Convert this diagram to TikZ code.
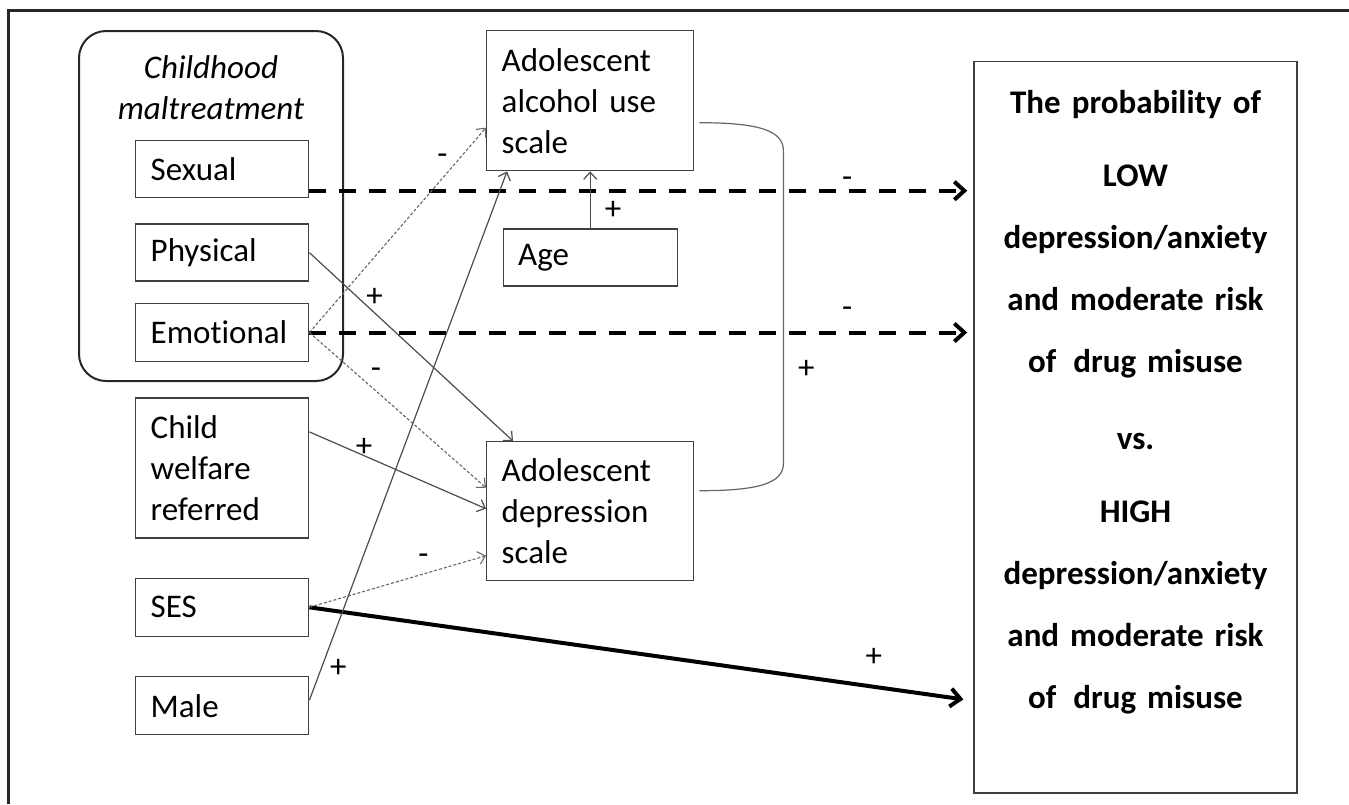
\documentclass[tikz,border=0pt]{standalone}
\usepackage{fontspec}
\setmainfont{Carlito}[Ligatures=NoCommon]
\usetikzlibrary{arrows.meta,calc,positioning}

\begin{document}
\begin{tikzpicture}[x=0.5pt,y=-0.5pt,font=\fontsize{16.5}{20.5}\selectfont,
  >={Straight Barb[length=3.5pt,width=6.5pt]},
  box/.style={draw=black!75,line width=0.7pt,align=left,inner xsep=7.5pt,inner ysep=0pt,
    text width=71.5pt,minimum height=28.5pt},
  grp/.style={draw=black!85,line width=1pt,rounded corners=13.5pt,anchor=north west,
    minimum width=132pt,minimum height=175pt},
  ttl/.style={align=center,inner sep=0pt,font=\fontsize{16.5}{20.5}\selectfont\itshape},
  res/.style={draw=black!75,line width=0.7pt,anchor=north,align=center,text width=151.5pt,
    inner xsep=5pt,inner ysep=14.5pt,text depth=325pt,font=\fontsize{16.5}{31}\selectfont\bfseries},
  plink/.style={draw=black!70,line width=0.6pt,->},
  nlink/.style={draw=black!60,line width=0.55pt,dash pattern=on 1.5pt off 1pt,->},
  bneg/.style={line width=2pt,dash pattern=on 8.5pt off 6.5pt,
    -{Straight Barb[length=5pt,width=9pt]},shorten >=3pt},
  bpos/.style={line width=2pt,-{Straight Barb[length=5pt,width=9pt]},shorten >=5pt},
  sgn/.style={inner sep=0pt}]
  \useasboundingbox (0,0) rectangle (1349,804);
  \draw[line width=1.5pt,black!85] (8,804) |- (1349,10);

  \node[grp] (grp) at (78,30) {};
  \node[ttl,below=12.5pt of grp.north] (mt) {Childhood\\maltreatment};
  \node[box,anchor=north west] (sex) at (135,140) {Sexual};
  \node[box,below=12.5pt of sex] (phy) {Physical};
  \node[box,below=10.5pt of phy,minimum height=29pt] (emo) {Emotional};
  \node[box,below=17.5pt of emo,minimum height=70pt] (cw) {Child\\ welfare\\ referred};
  \node[box,below=19.5pt of cw,minimum height=29pt] (ses) {SES};
  \node[box,below=19.5pt of ses,minimum height=29pt] (male) {Male};

  \node[box,anchor=north west,text width=88.5pt,minimum height=70pt] (alc) at (486,30)
    {Adolescent\\ alcohol use\\ scale};
  \node[box,below=28.5pt of alc,text width=72pt] (age) {Age};
  \node[box,anchor=north west,text width=88.5pt,minimum height=69.5pt] (dep) at (486,441)
    {Adolescent\\ depression\\ scale};

  \node[res] (out) at (1135.5,61) {The probability of\\[5.5pt] LOW\\ depression/anxiety\\
    and moderate risk\\ of\hspace{3pt} drug misuse\\[7.5pt] vs.\\[5.5pt] HIGH\\ depression/anxiety\\
    and moderate risk\\ of\hspace{3pt} drug misuse};

  \coordinate (s1) at ($(sex.east)+(0,21.5)$);
  \draw[bneg] (s1) -- (s1 -| out.west) node[sgn,pos=0.81,yshift=4.2pt]{-};
  \draw[bneg] (emo.east) -- (emo.east -| out.west) node[sgn,pos=0.81,yshift=10.2pt]{-};
  \draw[bpos] (ses.east) -- ($(out.west)+(0,273.5)$) node[sgn,pos=0.85,yshift=14.5pt]{+};

  \draw[plink] (phy.east) -- ([xshift=13.5pt]dep.north west) node[sgn,pos=0.32,yshift=7.7pt]{+};
  \draw[nlink] (emo.east) -- ($(alc.west)+(0,27)$) node[sgn,pos=0.866,xshift=-10pt,yshift=-1.8pt]{-};
  \draw[nlink] (emo.east) -- ($(dep.west)+(0,-23.5)$) node[sgn,pos=0.376,yshift=9pt]{-};
  \draw[plink] ($(cw.east)+(0,-36)$) -- ($(dep.west)+(0,-2.5)$) node[sgn,pos=0.309,yshift=4.2pt]{+};
  \draw[nlink] (ses.east) -- ($(dep.west)+(0,44.5)$) node[sgn,pos=0.646,yshift=7.2pt]{-};
  \draw[plink] ($(male.east)+(0,-5.5)$) -- ([xshift=10.5pt]alc.south west)
    node[sgn,pos=0.063,xshift=8.25pt,yshift=-0.8pt]{+};
  \draw[plink] (age) -- (alc) node[sgn,pos=0.35,xshift=11.5pt,yshift=-0.8pt]{+};

  \draw[draw=black!60,line width=0.6pt] ($(alc.east)+(5,22)$) .. controls +(60,0) and +(0,-20)
    .. ($(alc.east)+(89,50)$) -- node[sgn,pos=0.695,xshift=11.5pt,yshift=-0.8pt]{+} ($(dep.east)+(89,-48)$)
    .. controls +(0,20) and +(60,0) .. ($(dep.east)+(5,-20.5)$);
\end{tikzpicture}
\end{document}
